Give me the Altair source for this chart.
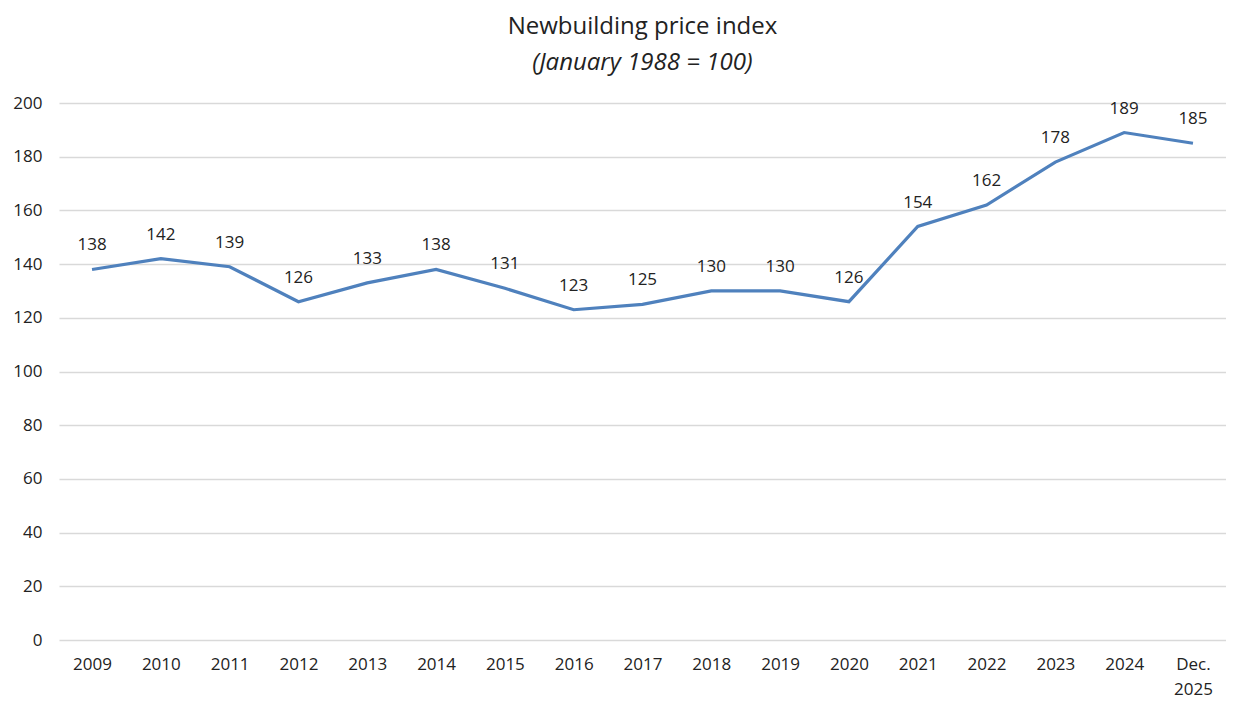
import altair as alt
import pandas as pd

years = ["2009", "2010", "2011", "2012", "2013", "2014", "2015", "2016", "2017",
         "2018", "2019", "2020", "2021", "2022", "2023", "2024", "Dec. 2025"]
values = [138, 142, 139, 126, 133, 138, 131, 123, 125, 130, 130, 126, 154, 162, 178, 189, 185]
y_ticks = [0, 20, 40, 60, 80, 100, 120, 140, 160, 180, 200]

df = pd.DataFrame({"year": years, "value": values})

FONT = "Open Sans"

x = alt.X(
    "year:N", sort=years, title=None,
    scale=alt.Scale(padding=0.48),
    axis=alt.Axis(
        labelAngle=0, domain=False, ticks=False, grid=False,
        labelFont=FONT, labelFontSize=17, labelColor="#222222", labelPadding=16,
        labelLineHeight=25,
        labelExpr="datum.label == 'Dec. 2025' ? ['Dec.', '2025'] : datum.label",
    ),
)
y = alt.Y(
    "value:Q", title=None,
    scale=alt.Scale(domain=[0, 200], nice=False),
    axis=alt.Axis(
        values=y_ticks, domain=False, ticks=False, grid=True,
        gridColor="#d9d9d9", gridWidth=1.3,
        labelFont=FONT, labelFontSize=17, labelColor="#222222", labelPadding=17,
    ),
)

base = alt.Chart(df).encode(x=x, y=y)

line = base.mark_line(color="#4f81bd", strokeWidth=3.2)
labels = base.mark_text(
    font=FONT, fontSize=17, color="#222222", dy=-24, baseline="middle"
).encode(text="value:Q")

chart = (line + labels).properties(
    width=1167,
    height=537,
    title=alt.TitleParams(
        text="Newbuilding price index",
        subtitle="(January 1988 = 100)",
        font=FONT, fontSize=24, fontWeight="normal", color="#222222",
        subtitleFont=FONT, subtitleFontSize=24, subtitleFontStyle="italic",
        subtitleColor="#222222", subtitlePadding=12,
        anchor="middle", offset=19,
    ),
    autosize=alt.AutoSizeParams(type="none"),
    padding={"left": 51, "top": 95, "right": 0, "bottom": 60},
).configure_view(stroke=None)

chart.save("out.html", embed_options={"renderer": "svg", "actions": False})
